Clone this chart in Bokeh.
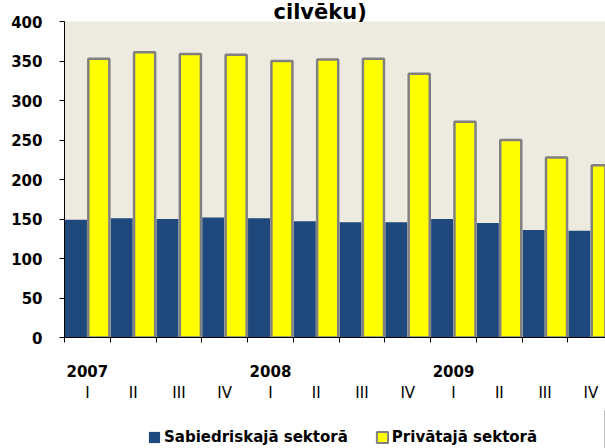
import numpy as np
from bokeh.plotting import figure
from bokeh.layouts import column
from bokeh.models import (Range1d, LinearAxis, FixedTicker, Legend, LegendItem,
                          ColumnDataSource)
from bokeh.embed import file_html
from bokeh.resources import INLINE

# ---- data ----
years = ["2007", "2008", "2009"]
quarters = ["I", "II", "III", "IV", "I", "II", "III", "IV", "I", "II", "III", "IV"]
sabiedriskaja = [149, 151, 150, 152, 151, 147, 146, 146, 150, 145, 136, 135]
privataja = [353, 361, 359, 358, 350, 352, 353, 334, 273, 250, 228, 218]
series_names = ["Sabiedriskajā sektorā", "Privātajā sektorā"]
title_text = "cilvēku)"
y_ticks = [0, 50, 100, 150, 200, 250, 300, 350, 400]

FONT = "DejaVu Sans"
BLUE = "#1F497D"
YELLOW = "#FFFF00"
GREY = "#808080"
BG = "#EDEAE0"

idx = np.arange(len(quarters))
src = ColumnDataSource(dict(xb=idx + 0.25, xy=idx + 0.75,
                            sab=sabiedriskaja, pri=privataja))

p = figure(width=605, height=410, output_backend="svg", toolbar_location=None,
           x_range=Range1d(0, 11.82), y_range=Range1d(0, 400),
           x_axis_type=None, y_axis_type=None,
           min_border_left=64, min_border_right=0, min_border_top=21,
           min_border_bottom=73,
           background_fill_color=BG, border_fill_color="white",
           outline_line_color=None)

p.title.text = title_text
p.title.text_font = FONT
p.title.text_font_style = "bold"
p.title.text_font_size = "21px"
p.title.text_color = "black"
p.title.align = "left"
p.title.vertical_align = "middle"
p.title.offset = 209
p.title.standoff = -6

r1 = p.vbar(x="xb", top="sab", width=0.48, bottom=0, source=src,
            fill_color=BLUE, line_color=None)
r2 = p.vbar(x="xy", top="pri", width=0.46, bottom=0, source=src,
            fill_color=YELLOW, line_color=GREY, line_width=2.5)

# y axis
yax = LinearAxis(ticker=FixedTicker(ticks=y_ticks, minor_ticks=[]))
yax.axis_line_color = "black"
yax.major_tick_out = 5
yax.major_tick_in = 0
yax.major_tick_line_color = "black"
yax.minor_tick_line_color = None
yax.major_label_standoff = 17
yax.major_label_text_font = FONT
yax.major_label_text_font_style = "bold"
yax.major_label_text_font_size = "15px"
yax.major_label_text_color = "black"
p.add_layout(yax, "left")

# x axis with boundary ticks and year labels
year_pos = [float(i) + 0.5 for i, q in enumerate(quarters) if q == "I"]
xax = LinearAxis(ticker=FixedTicker(ticks=year_pos,
                                    minor_ticks=[float(i) for i in range(len(quarters) + 1)]))
xax.major_label_overrides = {pos: y for pos, y in zip(year_pos, years)}
xax.axis_line_color = "black"
xax.major_tick_out = 0
xax.major_tick_in = 0
xax.major_tick_line_color = None
xax.minor_tick_out = 5
xax.minor_tick_in = 0
xax.minor_tick_line_color = "black"
xax.major_label_standoff = 22
xax.major_label_text_font = FONT
xax.major_label_text_font_style = "bold"
xax.major_label_text_font_size = "15px"
xax.major_label_text_color = "black"
p.add_layout(xax, "below")

# quarter labels
q_pos = [float(i) + 0.5 for i in idx]
qax = LinearAxis(ticker=FixedTicker(ticks=q_pos, minor_ticks=[]))
qax.major_label_overrides = {pos: q for pos, q in zip(q_pos, quarters)}
qax.axis_line_color = None
qax.major_tick_line_color = None
qax.minor_tick_line_color = None
qax.major_tick_out = 0
qax.major_tick_in = 0
qax.major_label_standoff = 4
qax.major_label_text_font = FONT
qax.major_label_text_font_size = "15px"
qax.major_label_text_color = "black"
p.add_layout(qax, "below")

# ---- legend strip (separate small figure so the legend is never clipped) ----
lf = figure(width=605, height=38, output_backend="svg", toolbar_location=None,
            x_range=Range1d(0, 1), y_range=Range1d(0, 1),
            x_axis_type=None, y_axis_type=None,
            min_border_left=0, min_border_right=0, min_border_top=0,
            min_border_bottom=0, outline_line_color=None,
            background_fill_color="white", border_fill_color="white")
# legend swatches only (placed outside the visible range)
l1 = lf.vbar(x=[5], top=[1], width=0.5, fill_color=BLUE, line_color=None)
l2 = lf.vbar(x=[5], top=[1], width=0.5, fill_color=YELLOW, line_color=GREY,
             line_width=2)

legend = Legend(items=[LegendItem(label=series_names[0], renderers=[l1]),
                       LegendItem(label=series_names[1], renderers=[l2])],
                orientation="horizontal", location=(83, 2))
legend.glyph_width = 14
legend.glyph_height = 14
legend.label_height = 15
legend.label_standoff = 3
legend.spacing = 27
legend.padding = 0
legend.margin = 0
legend.border_line_color = None
legend.background_fill_alpha = 0
legend.label_text_font = FONT
legend.label_text_font_style = "bold"
legend.label_text_font_size = "15px"
legend.label_text_color = "black"
lf.add_layout(legend)

layout = column(p, lf, spacing=0)

open("out.html", "w").write(file_html(layout, INLINE))
